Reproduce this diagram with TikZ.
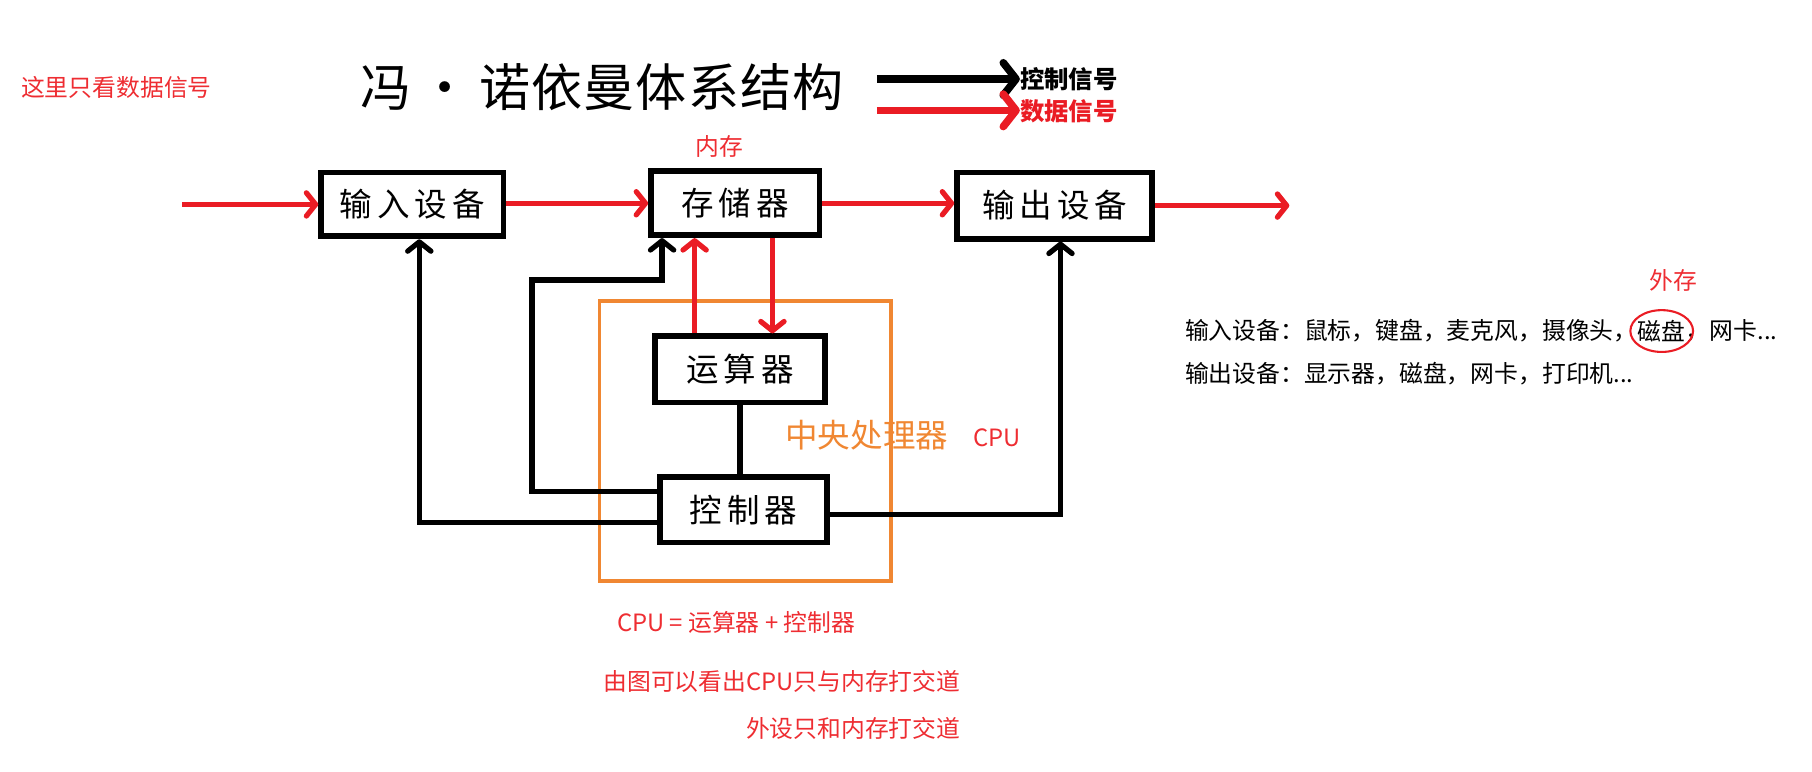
\documentclass[tikz,border=0pt]{standalone}
\usepackage{fontspec}
\newfontfamily\cjk{Noto Sans CJK SC}
\newfontfamily\cjkbox{Noto Sans CJK SC}[LetterSpace=15]
\newfontfamily\cjktitle{Noto Sans CJK SC}[LetterSpace=2]
\usetikzlibrary{arrows.meta,calc}
\definecolor{dred}{RGB}{234,28,36}
\definecolor{tred}{RGB}{238,45,50}
\definecolor{corange}{RGB}{240,135,50}
\begin{document}
\begin{tikzpicture}[x=1pt,y=-1pt,
  unitbox/.style={draw=black,line width=5pt,fill=white,inner sep=0pt,
    font=\cjkbox\fontsize{28}{28}\selectfont},
  tipb/.style={-{Straight Barb[length=8pt,width=20pt,line width=4.5pt,round]}},
  data/.style={draw=dred,line width=4.5pt,tipb},
  ctrl/.style={draw=black,line width=4.5pt,tipb},
  plainline/.style={draw=black,line width=4.5pt},
  legtip/.style={-{Straight Barb[length=11pt,width=28pt,line width=6.5pt,round]}},
  note/.style={text=tred,inner sep=0pt,font=\cjk\fontsize{20.5}{22}\selectfont},
  blacknote/.style={text=black,inner sep=0pt,font=\cjk\fontsize{20.5}{22}\selectfont},
]
\useasboundingbox (0,0) rectangle (1560,664);

% title and legend
\node[note,anchor=west] (hint) at (18,75) {这里只看数据信号};
\node[inner sep=0pt,anchor=west,font=\cjktitle\fontsize{44}{46}\selectfont] (title) at (310,75) {冯\,·\,诺依曼体系结构};
\node[inner sep=0pt,anchor=west,font=\cjk\bfseries\fontsize{21}{22}\selectfont] (lctl) at (878,68) {控制信号};
\node[inner sep=0pt,anchor=west,text=dred,font=\cjk\bfseries\fontsize{21}{22}\selectfont] (ldat) at (878,96) {数据信号};
\coordinate (lc0) at (755,68);
\coordinate (ld0) at (755,95);
\draw[draw=black,line width=6.5pt,legtip] (lc0) -- (lctl.west);
\draw[draw=dred,line width=6.5pt,legtip] (ld0) -- (ldat.west |- ld0);

% CPU frame
\draw[draw=corange,line width=3pt] (516,259) rectangle (767,500);
\node[inner sep=0pt,anchor=west,text=corange,font=\cjk\fontsize{28}{30}\selectfont] (cpuname) at (676,375) {中央处理器};
\node[note,anchor=west] (cpuen) at (838,377) {CPU};

% units
\node[unitbox,minimum width=157pt,minimum height=55pt] (in) at (355,176) {输入设备};
\node[unitbox,minimum width=145pt,minimum height=55pt] (mem) at (633,175) {存储器};
\node[unitbox,minimum width=168pt,minimum height=57pt] (out) at (908,177) {输出设备};
\node[unitbox,minimum width=146pt,minimum height=57pt] (alu) at (637,318) {运算器};
\node[unitbox,minimum width=144pt,minimum height=56pt] (cu) at (640,439) {控制器};
\node[note] (neicun) at (619,126) {内存};

% data flow
\coordinate (src) at (157,176);
\coordinate (snk) at (1110,177);
\draw[data] (src) -- (in.west |- src);
\draw[data] (in.east |- mem.west) -- (mem.west);
\draw[data] (mem.east) -- (out.west |- mem.east);
\draw[data] (out.east) -- (snk |- out.east);
\coordinate (xa) at (598,0);
\coordinate (xb) at (665,0);
\draw[data] (xa |- alu.north) -- (xa |- mem.south);
\draw[data] (xb |- mem.south) -- (xb |- alu.north);

% control
\draw[plainline] (alu.south) -- (alu.south |- cu.north);
\coordinate (k1) at (458,423);
\coordinate (k2) at (458,241);
\coordinate (k3) at (570,241);
\draw[ctrl] (cu.west |- k1) -- (k1) -- (k2) -- (k3) -- (k3 |- mem.south);
\coordinate (m1) at (361,450);
\draw[ctrl] (cu.west |- m1) -- (m1) -- (m1 |- in.south);
\coordinate (n1) at (913,443);
\draw[ctrl] (cu.east |- n1) -- (n1) -- (n1 |- out.south);

% right notes
\node[note] (waicun) at (1441,241) {外存};
\node[blacknote,anchor=west] (r1a) at (1020,285) {输入设备：鼠标，键盘，麦克风，摄像头，};
\node[blacknote,anchor=west] (r1b) at (r1a.east) {磁盘};
\node[blacknote,anchor=west] (r1c) at (r1b.east) {，网卡...};
\draw[draw=dred,line width=1.8pt] (r1b.center) ellipse (27pt and 18pt);
\node[blacknote,anchor=west] (r2) at (1020,322) {输出设备：显示器，磁盘，网卡，打印机...};

% bottom notes
\node[note,anchor=west] (eq) at (531,536) {CPU = 运算器 + 控制器};
\node[note,anchor=east] (c1) at (827,587) {由图可以看出CPU只与内存打交道};
\node[note,anchor=east] (c2) at (827,627) {外设只和内存打交道};
\end{tikzpicture}
\end{document}
